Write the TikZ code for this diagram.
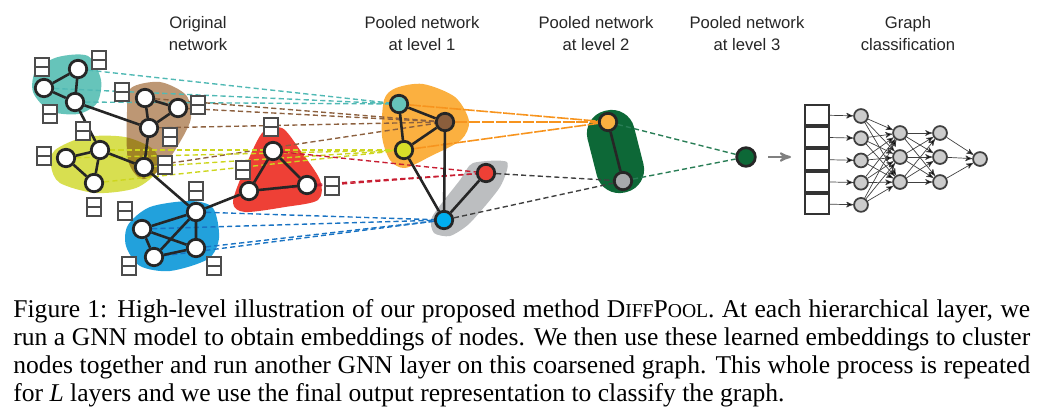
\documentclass[tikz,border=0pt]{standalone}
\usepackage{fontspec}
\setmainfont{Liberation Serif}
\setsansfont{Liberation Sans}
\usetikzlibrary{arrows}
\usetikzlibrary{positioning}

\definecolor{tealc}{RGB}{102,196,186}
\definecolor{teald}{RGB}{80,185,180}
\definecolor{brownc}{RGB}{189,151,116}
\definecolor{brownn}{RGB}{139,94,60}
\definecolor{brownd}{RGB}{140,96,62}
\definecolor{yellowc}{RGB}{216,223,80}
\definecolor{yellown}{RGB}{215,222,40}
\definecolor{yellowd}{RGB}{205,214,30}
\definecolor{redc}{RGB}{238,64,54}
\definecolor{redd}{RGB}{200,30,50}
\definecolor{bluec}{RGB}{34,161,220}
\definecolor{bluen}{RGB}{0,174,239}
\definecolor{blued}{RGB}{25,115,195}
\definecolor{orangec}{RGB}{251,176,64}
\definecolor{oranged}{RGB}{247,148,30}
\definecolor{grayc}{RGB}{188,190,192}
\definecolor{grayn}{RGB}{167,169,172}
\definecolor{greenc}{RGB}{13,104,55}
\definecolor{greend}{RGB}{40,125,85}

\pgfdeclarelayer{blobs}
\pgfdeclarelayer{links}
\pgfsetlayers{blobs,links,main}

\newcommand{\diffpool}{D{\fontsize{9.9}{11}\selectfont IFF}P{\fontsize{9.9}{11}\selectfont OOL}}

\begin{document}
\begin{tikzpicture}[x=0.01773cm, y=-0.01773cm,
                    >=stealth',
                    node distance=0.394cm,
                    orig/.style={circle,draw=black!85,line width=1.4pt,fill=white,minimum size=8.8pt,inner sep=0pt},
                    pool/.style={orig,fill=#1},
                    feat/.style={rectangle,draw=black!70,line width=0.8pt,fill=white,minimum width=7.2pt,minimum height=9.3pt,inner sep=0pt,
                        path picture={\draw[black!70,line width=0.8pt] (path picture bounding box.west) -- (path picture bounding box.east);}},
                    link/.style={draw=black!85,line width=1.3pt},
                    assign/.style={draw=#1,line width=0.7pt,dash pattern=on 2.6pt off 1.6pt},
                    merge/.style={draw=#1,line width=0.8pt,dash pattern=on 6pt off 0.8pt},
                    cell/.style={rectangle,draw=black!80,line width=1pt,fill=white,minimum width=12.1pt,minimum height=10.2pt,inner sep=0pt},
                    mlp/.style={circle,draw=black!75,line width=0.9pt,fill=black!20,minimum size=7pt,inner sep=0pt},
                    mlpedge/.style={draw=black!75,line width=0.35pt},
                    title/.style={anchor=north,align=center,inner sep=0pt,text=black!85,font=\sffamily\fontsize{8.4}{10.9}\selectfont}
                    ]
\useasboundingbox (0,0) rectangle (1060,414);

% titles
\node[title] (ttl0) at (198,16) {Original\\network};
\node[title] (ttl1) at (422,16) {Pooled network\\at level 1};
\node[title] (ttl2) at (596,16) {Pooled network\\at level 2};
\node[title] (ttl3) at (747,16) {Pooled network\\at level 3};
\node[title] (ttl4) at (908,16) {Graph\\classification};

% original network
\node[orig] (t1) at (78,69) {};
\node[orig] (t2) at (44,88) {};
\node[orig] (t3) at (75,102) {};
\node[orig] (b1) at (145,98) {};
\node[orig] (b2) at (178,108) {};
\node[orig] (b3) at (149,128) {};
\node[orig] (b4) at (144,167) {};
\node[orig] (y1) at (100,150) {};
\node[orig] (y2) at (66,158) {};
\node[orig] (y3) at (94,183) {};
\node[orig] (r1) at (273,151) {};
\node[orig] (r2) at (249,191) {};
\node[orig] (r3) at (307,185) {};
\node[orig] (u1) at (196,212) {};
\node[orig] (u2) at (142,229) {};
\node[orig] (u3) at (196,248) {};
\node[orig] (u4) at (154,257) {};

% pooled networks
\node[pool=tealc] (p1) at (399,104) {};
\node[pool=brownn] (p2) at (445,122) {};
\node[pool=yellown] (p3) at (404,150) {};
\node[pool=redc] (p4) at (486,173) {};
\node[pool=bluen] (p5) at (444,220) {};
\node[pool=orangec] (q1) at (608,122) {};
\node[pool=grayn] (q2) at (623,181) {};
\node[pool=greenc,minimum size=9.4pt] (s) at (746,157) {};

\draw[link] (t1) -- (t2) (t1) -- (t3) (t2) -- (t3);
\draw[link] (b1) -- (b2) (b1) -- (b3) (b2) -- (b3) (b3) -- (b4);
\draw[link] (y1) -- (y2) (y1) -- (y3) (y2) -- (y3);
\draw[link] (r1) -- (r2) (r1) -- (r3) (r2) -- (r3);
\draw[link] (u1) -- (u2) (u1) -- (u3) (u1) -- (u4) (u2) -- (u3) (u2) -- (u4) (u4) -- (u3);
\draw[link] (t3) -- (b3) (t3) -- (y1) (y1) -- (b4) (b4) -- (u1) (u1) -- (r2);
\draw[link] (p1) -- (p2) (p1) -- (p3) (p2) -- (p3) (p3) -- (p5) (p2) -- (p5) (p4) -- (p5);
\draw[link] (q1) -- (q2);

% node features
\node[feat] (f1) at (42,67) {};
\node[feat] (f2) at (99,60) {};
\node[feat] (f3) at (50,114) {};
\node[feat] (f4) at (83,131) {};
\node[feat] (f5) at (44,156) {};
\node[feat] (f6) at (122,92) {};
\node[feat] (f7) at (198,105) {};
\node[feat] (f8) at (170,137) {};
\node[feat] (f9) at (165,165) {};
\node[feat] (f10) at (94,207) {};
\node[feat] (f11) at (125,211) {};
\node[feat] (f12) at (196,191) {};
\node[feat] (f13) at (129,266) {};
\node[feat] (f14) at (214,266) {};
\node[feat] (f15) at (271,127) {};
\node[feat] (f16) at (243,170) {};
\node[feat] (f17) at (332,186) {};

% clusters
\begin{pgfonlayer}{blobs}
\fill[tealc] plot[smooth cycle] coordinates {(36,70) (58,57) (88,56) (101,80) (97,103) (78,114) (50,111) (33,92)};
\fill[brownc] plot[smooth cycle] coordinates {(131,88) (160,82) (186,95) (191,118) (180,142) (162,168) (142,179) (128,160) (127,112)};
\begin{scope}[blend mode=multiply]
\fill[yellowc] plot[smooth cycle] coordinates {(55,150) (85,137) (125,137) (154,150) (158,170) (136,188) (96,193) (60,183) (51,166)};
\end{scope}
\fill[redc] plot[smooth cycle] coordinates {(262,133) (282,128) (300,150) (320,180) (318,200) (285,207) (245,212) (233,203) (242,175)};
\fill[bluec] plot[smooth cycle] coordinates {(128,225) (150,207) (190,201) (213,208) (219,238) (208,259) (170,271) (140,266) (126,246)};
\fill[orangec] plot[smooth cycle] coordinates {(384,100) (396,88) (423,84) (455,97) (469,121) (461,140) (431,156) (405,168) (390,160) (382,136)};
\fill[grayc] plot[smooth cycle,tension=0.4] coordinates {(473,163) (507,162) (500,187) (470,223) (450,236) (434,233) (432,217) (460,180)};
\fill[greenc,shift={(615.5,151.5)},rotate=14.3,rounded corners=4.1mm] (-24,-42) rectangle (24,42);
\end{pgfonlayer}

% assignments
\begin{pgfonlayer}{links}
\draw[assign=teald] (t1) edge (p1) (t2) edge (p1) (t3) edge (p1);
\draw[assign=brownd] (b1) edge (p2) (b2) edge (p2) (b3) edge (p2) (b4) edge (p2);
\draw[assign=yellowd] (y1) edge (p3) (y2) edge (p3) (y3) edge (p3) (b4) edge (p3);
\draw[assign=redd] (r1) edge (p4) (r2) edge (p4) (r3) edge (p4);
\draw[assign=blued] (u1) edge (p5) (u2) edge (p5) (u3) edge (p5) (u4) edge (p5);
\draw[merge=oranged] (p1) edge (q1) (p2) edge (q1) (p3) edge (q1);
\draw[assign=black!75] (p4) edge (q2) (p5) edge (q2);
\draw[assign=greend] (q1) edge (s) (q2) edge (s);
\end{pgfonlayer}

% readout
\coordinate (a1) at (768,157);
\coordinate (a2) at (791,157);
\draw[->,black!50,line width=1pt] (a1) -- (a2);

\node[cell] (v1) at (817,115) {};
\node[cell] (v2) [below of=v1] {};
\node[cell] (v3) [below of=v2] {};
\node[cell] (v4) [below of=v3] {};
\node[cell] (v5) [below of=v4] {};

\node[mlp] (h1) at (861,116) {};
\node[mlp] (h2) [below of=h1] {};
\node[mlp] (h3) [below of=h2] {};
\node[mlp] (h4) [below of=h3] {};
\node[mlp] (h5) [below of=h4] {};
\node[mlp] (g1) at (900,133) {};
\node[mlp] (g2) at (900,157) {};
\node[mlp] (g3) at (900,182) {};
\node[mlp] (k1) at (940,133) {};
\node[mlp] (k2) at (940,157) {};
\node[mlp] (k3) at (940,182) {};
\node[mlp] (o) at (980,159) {};

\draw[->,mlpedge] (v1) edge (h1) (v2) edge (h2) (v3) edge (h3) (v4) edge (h4) (v5) edge (h5);
\draw[->,mlpedge] (h1) edge (g1) edge (g2) edge (g3);
\draw[->,mlpedge] (h2) edge (g1) edge (g2) edge (g3);
\draw[->,mlpedge] (h3) edge (g1) edge (g2) edge (g3);
\draw[->,mlpedge] (h4) edge (g1) edge (g2) edge (g3);
\draw[->,mlpedge] (h5) edge (g1) edge (g2) edge (g3);
\draw[->,mlpedge] (g1) edge (k1) edge (k2) edge (k3);
\draw[->,mlpedge] (g2) edge (k1) edge (k2) edge (k3);
\draw[->,mlpedge] (g3) edge (k1) edge (k2) edge (k3);
\draw[->,mlpedge] (k1) edge (o) (k2) edge (o) (k3) edge (o);

% caption
\node[anchor=north west,inner sep=0pt,text width=513pt,align=justify,font=\fontsize{12.9}{14.2}\selectfont] (cap) at (13,299)
  {Figure 1: High-level illustration of our proposed method \diffpool. At each hierarchical layer, we\linebreak
   run a GNN model to obtain embeddings of nodes. We then use these learned embeddings to cluster\linebreak
   nodes together and run another GNN layer on this coarsened graph. This whole process is repeated\linebreak
   for \textit{L} layers and we use the final output representation to classify the graph.};
\end{tikzpicture}
\end{document}
